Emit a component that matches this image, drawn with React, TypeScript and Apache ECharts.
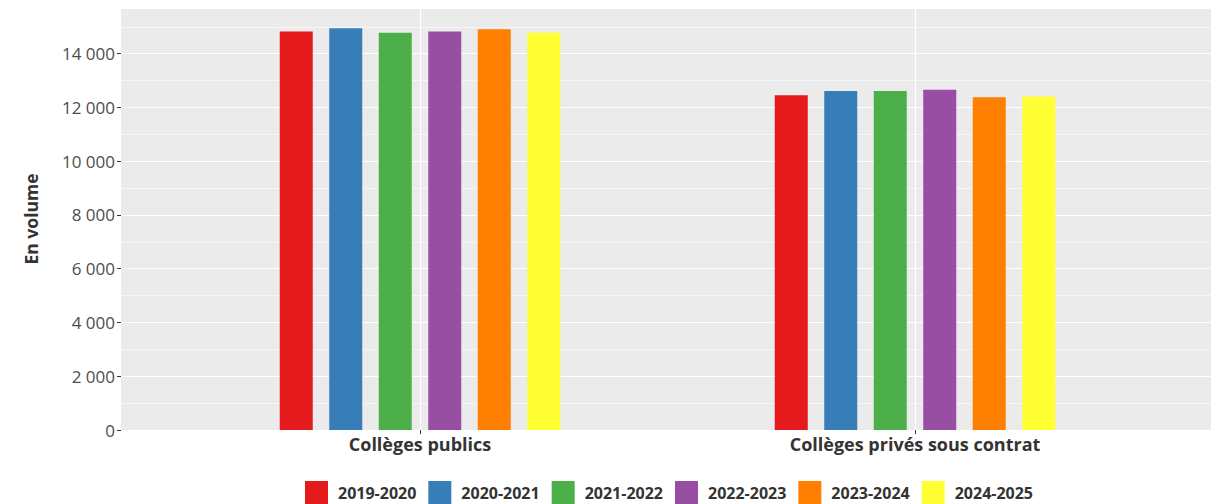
import React, { useEffect, useRef } from "react";
import * as echarts from "echarts";

const categories = ["Collèges publics", "Collèges privés sous contrat"];
const years = ["2019-2020", "2020-2021", "2021-2022", "2022-2023", "2023-2024", "2024-2025"];
const v2019 = [14830, 12450];
const v2020 = [14950, 12610];
const v2021 = [14780, 12610];
const v2022 = [14830, 12660];
const v2023 = [14910, 12380];
const v2024 = [14780, 12410];
const seriesValues = [v2019, v2020, v2021, v2022, v2023, v2024];
const colors = ["#E41A1C", "#377EB8", "#4DAF4A", "#984EA3", "#FF7F00", "#FFFF33"];
const yMax = 15700;
const yTitle = "En volume";

const fmt = (v: number) => {
  const s = String(Math.round(v));
  return s.replace(/\B(?=(\d{3})+(?!\d))/g, " ");
};

export default function App() {
  const ref = useRef<HTMLDivElement>(null);
  useEffect(() => {
    if (!ref.current) return;
    const chart = echarts.init(ref.current, undefined, { renderer: "svg" });
    const font = "'Open Sans', 'Liberation Sans', sans-serif";
    chart.setOption({
      animation: false,
      color: colors,
      grid: [
        { left: 121, right: 0, top: 8, bottom: 74, show: true, backgroundColor: "#EBEBEB", borderWidth: 0 },
        { left: 420, width: 495, top: 8, bottom: 74 },
      ],
      xAxis: [
        { gridIndex: 0, type: "value", min: 0, max: 1, show: false, splitLine: { show: false } },
        {
          gridIndex: 1,
          type: "category",
          data: categories,
          boundaryGap: false,
          axisLine: { show: false },
          axisTick: { show: true, length: 4, lineStyle: { color: "#333333" } },
          axisLabel: { color: "#333333", fontWeight: "bold", fontSize: 18, fontFamily: font, margin: 5 },
          splitLine: { show: true, lineStyle: { color: "#FFFFFF", width: 1.2 } },
        },
      ],
      yAxis: [
        {
          gridIndex: 0,
          type: "value",
          min: 0,
          max: yMax,
          interval: 1000,
          axisLine: { show: false },
          axisTick: { show: false },
          axisLabel: { show: false },
          splitLine: { show: true, lineStyle: { color: ["#FFFFFF", "#F6F6F6"], width: 1.2 } },
        },
        {
          gridIndex: 0,
          type: "value",
          position: "left",
          min: 0,
          max: yMax,
          interval: 2000,
          name: yTitle,
          nameLocation: "middle",
          nameGap: 81,
          nameTextStyle: { color: "#333333", fontWeight: "bold", fontSize: 17.5, fontFamily: font },
          axisLine: { show: false },
          axisTick: { show: true, length: 4, lineStyle: { color: "#333333" } },
          axisLabel: {
            color: "#4D4D4D",
            fontSize: 17,
            fontFamily: font,
            margin: 6,
            showMaxLabel: false,
            formatter: (v: number) => (v % 2000 === 0 ? fmt(v) : ""),
          },
          splitLine: { show: false },
        },
        { gridIndex: 1, type: "value", min: 0, max: yMax, show: false, splitLine: { show: false } },
      ],
      legend: {
        bottom: 0,
        left: 305,
        padding: 0,
        itemWidth: 23,
        itemHeight: 23,
        itemGap: 12,
        icon: "rect",
        data: years,
        textStyle: { color: "#333333", fontWeight: "bold", fontSize: 16, fontFamily: font, padding: [0, 0, 0, 5] },
      },
      series: years.map((y, i) => ({
        name: y,
        type: "bar",
        xAxisIndex: 1,
        yAxisIndex: 2,
        data: seriesValues[i],
        barWidth: 33,
        barGap: "50%",
        clip: false,
        itemStyle: { color: colors[i] },
      })),
    });
    return () => chart.dispose();
  }, []);
  return <div ref={ref} style={{ position: "absolute", left: 0, top: 0, width: 1211, height: 504 }} />;
}
